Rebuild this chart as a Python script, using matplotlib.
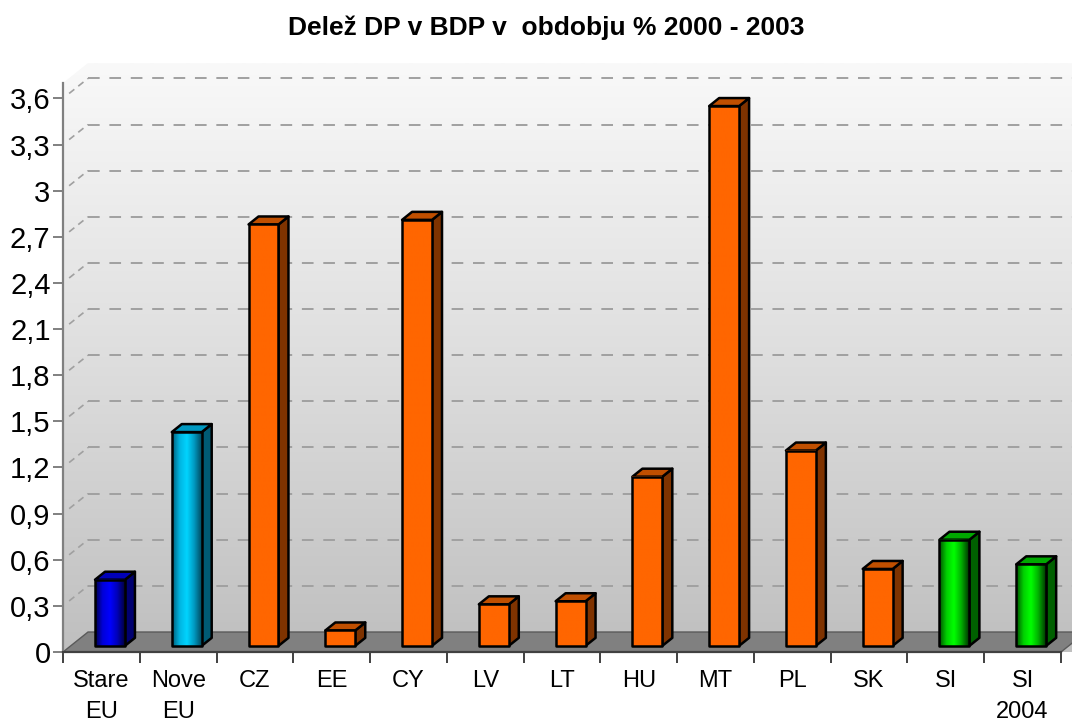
import numpy as np
import matplotlib
matplotlib.use('Agg')
import matplotlib.pyplot as plt
from matplotlib.patches import Polygon, Rectangle
from matplotlib.colors import LinearSegmentedColormap

# ── data ──────────────────────────────────────────────────────────────────────
categories = ['Stare\nEU', 'Nove\nEU', 'CZ', 'EE', 'CY', 'LV', 'LT', 'HU', 'MT', 'PL', 'SK', 'SI', 'SI\n2004']
values     = [0.43, 1.39, 2.74, 0.10, 2.77, 0.27, 0.29, 1.10, 3.51, 1.27, 0.50, 0.69, 0.53]
groups     = ['old', 'new', 'acc', 'acc', 'acc', 'acc', 'acc', 'acc', 'acc', 'acc', 'acc', 'si', 'si']
yticks     = [0, 0.3, 0.6, 0.9, 1.2, 1.5, 1.8, 2.1, 2.4, 2.7, 3.0, 3.3, 3.6]
title      = "Delež DP v BDP v  obdobju % 2000 - 2003"

# front gradient stops, side colour, top colour
STYLES = {
    'old': (['#00004a', '#0000d8', '#0000ff', '#0000b8', '#000040'], '#000070', '#0000b8'),
    'new': (['#005f7a', '#00b4e0', '#00d4ff', '#0098c0', '#004a60'], '#005a74', '#0098c0'),
    'acc': (['#ff6600', '#ff6600'], '#7f3300', '#c04f00'),
    'si':  (['#005000', '#00d000', '#00ff00', '#00b000', '#003a00'], '#006000', '#00a800'),
}

# ── geometry (data units) ─────────────────────────────────────────────────────
N     = len(categories)
YTOP  = 3.70          # top of front axis
DX    = 0.326         # wall depth offset (x, category units)
DY    = 0.130         # wall depth offset (y, value units)
BAR_X = 0.417         # front face left within category
BAR_W = 0.39
BAR_Y = 0.04          # bar base above front floor edge
BDX   = 0.13          # bar depth
BDY   = 0.052

fig = plt.figure(figsize=(10.72, 7.24), dpi=100)
fig.patch.set_facecolor('white')
ax = fig.add_axes([63 / 1072, 72 / 724, (1072 - 63) / 1072, (652 - 63) / 724])
ax.set_facecolor('none')

# ── back + side wall with vertical gradient ──────────────────────────────────
wall = Polygon([(0, 0), (0, YTOP), (DX, YTOP + DY), (N + DX, YTOP + DY), (N + DX, 0)],
               closed=True, transform=ax.transData, facecolor='none', edgecolor='none')
ax.add_patch(wall)
bg_cmap = LinearSegmentedColormap.from_list('bg', ['#bfbfbf', '#dedede', '#f9f9f9'])
bg = ax.imshow(np.linspace(0, 1, 256)[:, None], cmap=bg_cmap, origin='lower',
               extent=[0, N + DX, 0, YTOP + DY], aspect='auto', zorder=0,
               interpolation='bilinear')
bg.set_clip_path(wall)

# grid lines on back wall and side wall
for t in yticks[1:]:
    ax.plot([DX, N + DX], [t + DY, t + DY], color='#a0a0a0', lw=1.4,
            dashes=(6, 5), zorder=1, clip_on=False)
    ax.plot([0.08, DX], [t + 0.08 * DY / DX, t + DY], color='#a0a0a0', lw=1.2,
            dashes=(4, 3), zorder=1)

# floor
floor = Polygon([(0, 0), (DX, DY), (N + DX, DY), (N, 0)], closed=True,
                facecolor='#808080', edgecolor='#5a5a5a', lw=1.0, zorder=2, clip_on=False)
ax.add_patch(floor)

# ── bars ─────────────────────────────────────────────────────────────────────
for i, (v, g) in enumerate(zip(values, groups)):
    stops, side_c, top_c = STYLES[g]
    x0 = i + BAR_X
    x1 = x0 + BAR_W
    y0 = BAR_Y
    y1 = BAR_Y + v
    side = Polygon([(x1, y0), (x1 + BDX, y0 + BDY), (x1 + BDX, y1 + BDY), (x1, y1)],
                   closed=True, facecolor=side_c, edgecolor='black', lw=1.8,
                   joinstyle='round', zorder=4)
    top = Polygon([(x0, y1), (x0 + BDX, y1 + BDY), (x1 + BDX, y1 + BDY), (x1, y1)],
                  closed=True, facecolor=top_c, edgecolor='black', lw=1.8,
                  joinstyle='round', zorder=4)
    ax.add_patch(side)
    ax.add_patch(top)
    cm = LinearSegmentedColormap.from_list('b%d' % i, stops)
    ax.imshow(np.linspace(0, 1, 64)[None, :], cmap=cm, extent=[x0, x1, y0, y1],
              aspect='auto', zorder=5, interpolation='bilinear')
    ax.add_patch(Rectangle((x0, y0), BAR_W, v, facecolor='none', edgecolor='black',
                           lw=1.8, joinstyle='round', zorder=6))

ax.set_xlim(0, N + 11 / 76.77)
ax.set_ylim(0, YTOP + DY)

# ── axes, ticks, labels ──────────────────────────────────────────────────────
for s in ['top', 'right']:
    ax.spines[s].set_visible(False)
ax.spines['left'].set_bounds(0, YTOP)
ax.spines['left'].set_color('#808080')
ax.spines['left'].set_linewidth(1.6)
ax.spines['bottom'].set_bounds(0, N)
ax.spines['bottom'].set_color('#404040')
ax.spines['bottom'].set_linewidth(1.6)
ax.spines['left'].set_zorder(7)
ax.spines['bottom'].set_zorder(7)

ax.set_yticks(yticks)
ax.set_yticklabels([('%g' % t).replace('.', ',') for t in yticks],
                   fontsize=21, family='Liberation Sans')
ax.tick_params(axis='y', length=7, width=1.4, color='#808080', pad=2)

ax.set_xticks(np.arange(N) + 0.5)
ax.set_xticklabels(categories, fontsize=17, family='Liberation Sans', linespacing=1.5)
ax.set_xticks(np.arange(N + 1), minor=True)
ax.tick_params(axis='x', which='major', length=0, pad=13)
ax.tick_params(axis='x', which='minor', length=8, width=1.4, color='#404040')

fig.text(0.51, 0.962, title, ha='center', va='center', fontsize=19, fontweight='bold',
         family='Liberation Sans')

fig.savefig('out.png', dpi=100, facecolor='white')
